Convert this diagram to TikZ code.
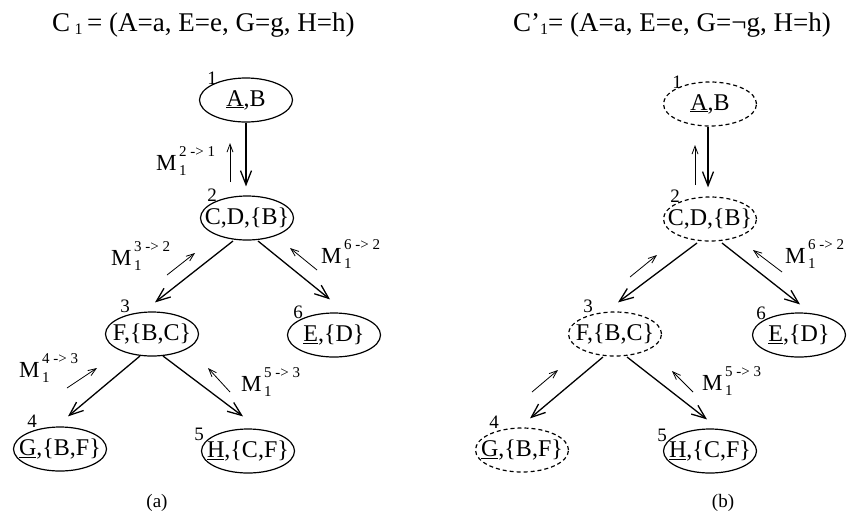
\documentclass[tikz,border=0pt]{standalone}
\usepackage{fontspec}
\setmainfont{Liberation Serif}
\usetikzlibrary{arrows.meta,calc,shapes.geometric}
\newcommand{\Mlab}[1]{M\makebox[0pt][l]{\raisebox{-5pt}{\fontsize{15}{15}\selectfont\,1}}\raisebox{14pt}{\fontsize{15}{15}\selectfont\,#1}}
\newcommand{\subone}{\raisebox{-3pt}{\fontsize{16}{16}\selectfont 1}}
\begin{document}
\begin{tikzpicture}[x=1pt,y=-1pt,
  ell/.style={draw,ellipse,line width=1.2pt,minimum width=93pt,minimum height=44pt,inner sep=0pt},
  dell/.style={ell,dash pattern=on 4pt off 3pt},
  ntxt/.style={font=\fontsize{24}{24}\selectfont,inner sep=0pt},
  num/.style={font=\fontsize{19}{19}\selectfont,inner sep=0pt},
  edge/.style={line width=1.3pt,-{Straight Barb[length=14pt,width=11pt,line width=1.3pt]}},
  msg/.style={line width=0.8pt,-{Straight Barb[length=8pt,width=6pt,line width=0.8pt]}},
  mlab/.style={anchor=base west,inner sep=0pt,font=\fontsize{23}{23}\selectfont},
  ttl/.style={anchor=base west,inner sep=0pt,font=\fontsize{27}{27}\selectfont},
  captxt/.style={inner sep=0pt,font=\fontsize{19}{19}\selectfont}]
\useasboundingbox (0,0) rectangle (850,517);
\fill[white] (0,0) rectangle (850,517);

% titles
\node[ttl] (ta) at (52,31) {C\,\subone\,= (A=a, E=e, G=g, H=h)};
\node[ttl] (tb) at (513,31) {C’\subone= (A=a, E=e, G=¬g, H=h)};

% ---------- tree (a) ----------
\node[ell,label={[ntxt]center:\underline{A},B}] (a1) at (246,100) {};
\node[ell,label={[ntxt]center:C,D,\{B\}}] (a2) at (247,218) {};
\node[ell,label={[ntxt]center:F,\{B,C\}}] (a3) at (152,334) {};
\node[ell,label={[ntxt]center:\underline{E},\{D\}}] (a6) at (334,335) {};
\node[ell,label={[ntxt]center:\underline{G},\{B,F\}}] (a4) at (60,449) {};
\node[ell,label={[ntxt]center:\underline{H},\{C,F\}}] (a5) at (248,451) {};

\node[num] (a1n) at ($(a1)+(-34,-22)$) {1};
\node[num] (a2n) at ($(a2)+(-35,-23)$) {2};
\node[num] (a3n) at ($(a3)+(-27,-28)$) {3};
\node[num] (a6n) at ($(a6)+(-36,-23)$) {6};
\node[num] (a4n) at ($(a4)+(-28,-28)$) {4};
\node[num] (a5n) at ($(a5)+(-49,-17)$) {5};

\draw[edge] (a1.south) -- ($(a2.north)+(-1,-9)$);
\draw[edge] ($(a2.center)+(-14,23)$) -- ($(a3.north)+(3,-9)$);
\draw[edge] ($(a2.center)+(11,23)$) -- ($(a6.north)+(-4,-13)$);
\draw[edge] ($(a3.center)+(-12,22)$) -- ($(a4.north)+(8,-10)$);
\draw[edge] ($(a3.center)+(11,22)$) -- ($(a5.north)+(-5,-12)$);

\coordinate (am21s) at (230,182); \coordinate (am21e) at (230,143);
\coordinate (am32s) at (167,275); \coordinate (am32e) at (195,253);
\coordinate (am62s) at (317,270); \coordinate (am62e) at (290,248);
\coordinate (am43s) at (67,388);  \coordinate (am43e) at (97,368);
\coordinate (am53s) at (230,392); \coordinate (am53e) at (208,368);
\draw[msg] (am21s) -- (am21e);
\draw[msg] (am32s) -- (am32e);
\draw[msg] (am62s) -- (am62e);
\draw[msg] (am43s) -- (am43e);
\draw[msg] (am53s) -- (am53e);

\node[mlab] (aM21) at (156,170) {\Mlab{2 -> 1}};
\node[mlab] (aM32) at (111,265) {\Mlab{3 -> 2}};
\node[mlab] (aM62) at (321,263) {\Mlab{6 -> 2}};
\node[mlab] (aM43) at (19,377) {\Mlab{4 -> 3}};
\node[mlab] (aM53) at (241,391) {\Mlab{5 -> 3}};

\node[captxt] (capa) at (157,503) {(a)};

% ---------- tree (b) ----------
\node[dell,label={[ntxt]center:\underline{A},B}] (b1) at (710,104) {};
\node[dell,label={[ntxt]center:C,D,\{B\}}] (b2) at (710,219) {};
\node[dell,label={[ntxt]center:F,\{B,C\}}] (b3) at (615,334) {};
\node[ell,label={[ntxt]center:\underline{E},\{D\}}] (b6) at (799,335) {};
\node[dell,label={[ntxt]center:\underline{G},\{B,F\}}] (b4) at (522,450) {};
\node[ell,label={[ntxt]center:\underline{H},\{C,F\}}] (b5) at (710,451) {};

\node[num] (b1n) at ($(b1)+(-33,-22)$) {1};
\node[num] (b2n) at ($(b2)+(-35,-23)$) {2};
\node[num] (b3n) at ($(b3)+(-27,-28)$) {3};
\node[num] (b6n) at ($(b6)+(-38,-22)$) {6};
\node[num] (b4n) at ($(b4)+(-28,-28)$) {4};
\node[num] (b5n) at ($(b5)+(-48,-16)$) {5};

\draw[edge] ($(b1.south)+(-2,0)$) -- ($(b2.north)+(-2,-9)$);
\draw[edge] ($(b2.center)+(-13,24)$) -- ($(b3.north)+(3,-9)$);
\draw[edge] ($(b2.center)+(12,24)$) -- ($(b6.north)+(1,-8)$);
\draw[edge] ($(b3.center)+(-12,23)$) -- ($(b4.north)+(8,-9)$);
\draw[edge] ($(b3.center)+(12,23)$) -- ($(b5.north)+(-3,-9)$);

\coordinate (bm21s) at (695,185); \coordinate (bm21e) at (695,145);
\coordinate (bm32s) at (630,277); \coordinate (bm32e) at (657,255);
\coordinate (bm62s) at (782,272); \coordinate (bm62e) at (753,250);
\coordinate (bm43s) at (532,392); \coordinate (bm43e) at (558,370);
\coordinate (bm53s) at (693,392); \coordinate (bm53e) at (672,371);
\draw[msg] (bm21s) -- (bm21e);
\draw[msg] (bm32s) -- (bm32e);
\draw[msg] (bm62s) -- (bm62e);
\draw[msg] (bm43s) -- (bm43e);
\draw[msg] (bm53s) -- (bm53e);

\node[mlab] (bM62) at (785,263) {\Mlab{6 -> 2}};
\node[mlab] (bM53) at (702,390) {\Mlab{5 -> 3}};

\node[captxt] (capb) at (723,503) {(b)};
\end{tikzpicture}
\end{document}
